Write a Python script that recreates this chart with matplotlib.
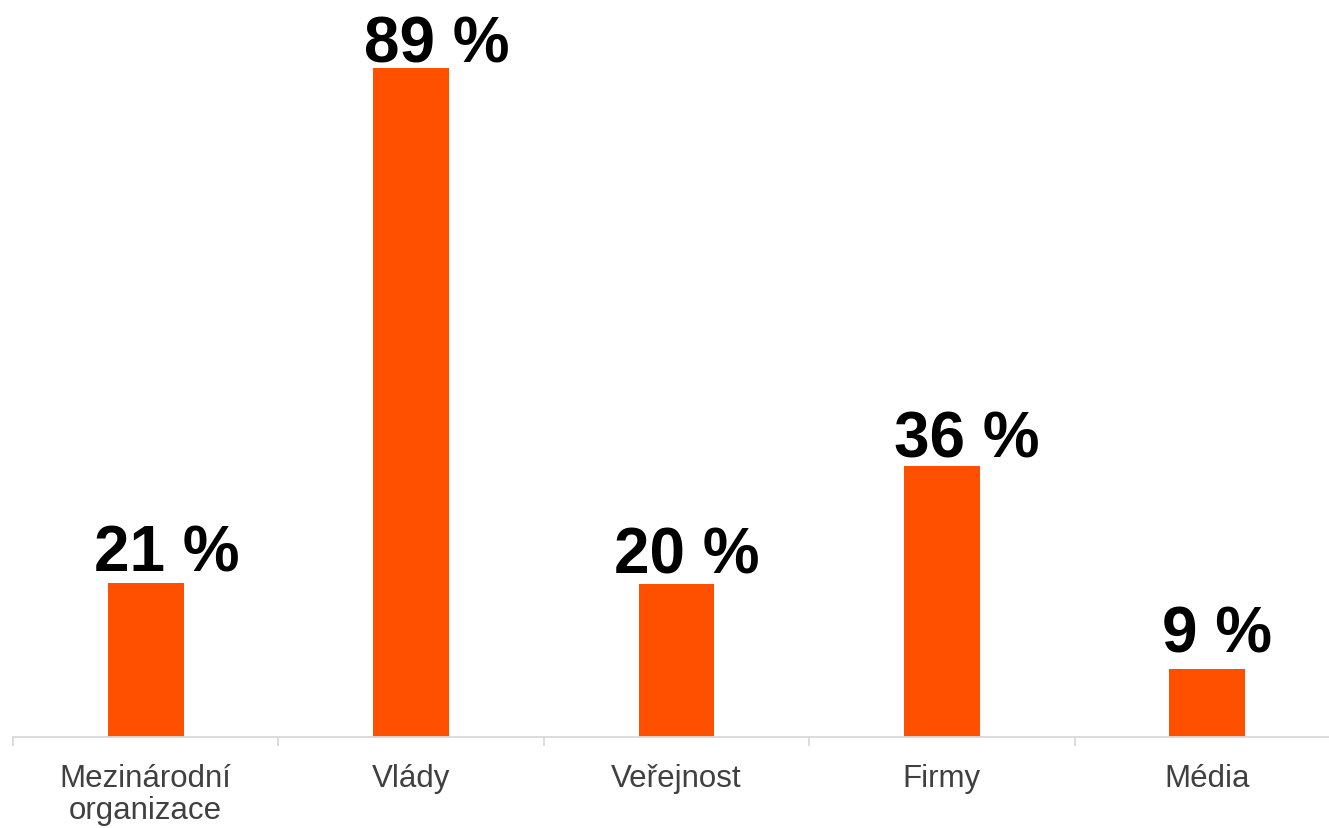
import matplotlib
matplotlib.use("Agg")
import matplotlib.pyplot as plt

categories = ["Mezinárodní\norganizace", "Vlády", "Veřejnost", "Firmy", "Média"]
values = [20.5, 89, 20.3, 36, 9]
value_labels = ["21 %", "89 %", "20 %", "36 %", "9 %"]

# label nudges (points) as placed in the reference
label_dx_pt = [15.5, 18.7, 7.2, 18.0, 7.2]
label_dy_pt = [8.9, 4.5, 8.6, 7.2, 13.0]

plt.rcParams['font.family'] = ['Liberation Sans', 'DejaVu Sans']

W, H = 1329, 829
fig = plt.figure(figsize=(W / 100, H / 100), dpi=100)
left_px, right_px = 13, 1340
base_px = 738
ax = fig.add_axes([left_px / W, (H - base_px) / H, (right_px - left_px) / W, 736.7 / H])

x = list(range(len(categories)))
ax.bar(x, values, width=0.286, color="#FF5000", zorder=2)
ax.set_xlim(-0.5, len(categories) - 0.5)
ax.set_ylim(0, 98)

for xi, v, lab, dx, dy in zip(x, values, value_labels, label_dx_pt, label_dy_pt):
    ax.annotate(lab, (xi, v), xytext=(dx, dy), textcoords="offset points",
                ha="center", va="baseline", fontsize=46, fontweight="bold",
                color="black", annotation_clip=False)

ax.set_xticks(x)
ax.set_xticklabels(categories, fontsize=22.5, color="#404040", linespacing=1.12)
ax.set_xticks([i - 0.5 for i in range(len(categories) + 1)], minor=True)
ax.tick_params(axis="x", which="major", length=0, pad=18.5)
ax.tick_params(axis="x", which="minor", length=6.5, color="#D9D9D9", width=1.3)
ax.set_yticks([])
for s in ["top", "right", "left"]:
    ax.spines[s].set_visible(False)
ax.spines["bottom"].set_color("#D9D9D9")
ax.spines["bottom"].set_linewidth(1.3)

fig.savefig("out.png", dpi=100)
